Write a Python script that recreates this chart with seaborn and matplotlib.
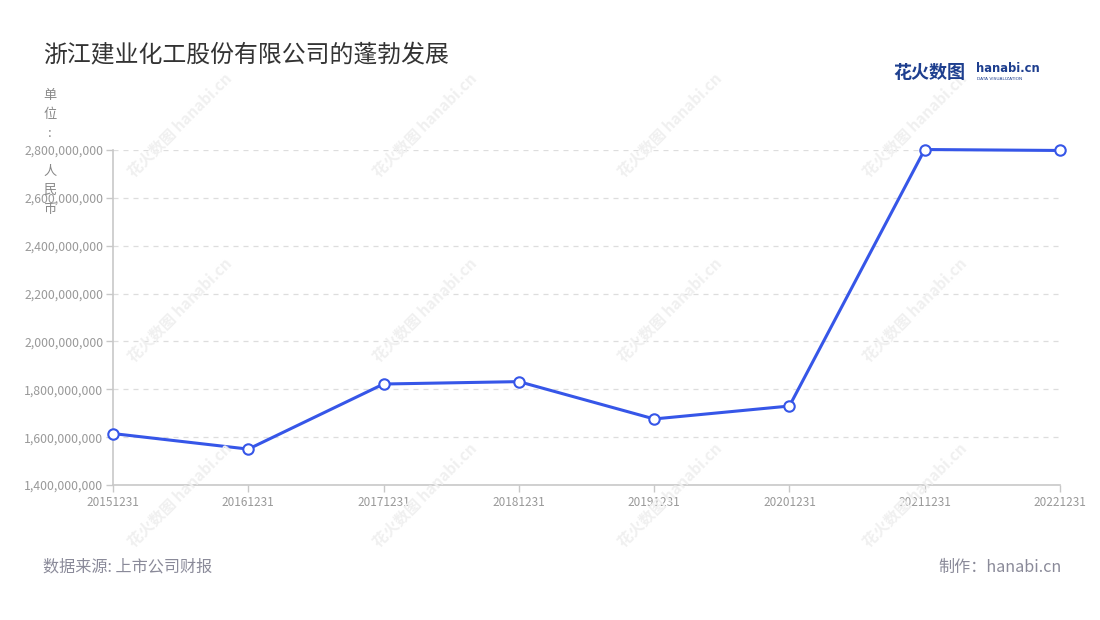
import matplotlib
matplotlib.use("Agg")
import matplotlib.pyplot as plt
import seaborn as sns
import pandas as pd

# values
dates = ["20151231", "20161231", "20171231", "20181231",
         "20191231", "20201231", "20211231", "20221231"]
values = [1615e6, 1550e6, 1822e6, 1832e6, 1676e6, 1730e6, 2802e6, 2798e6]
y_ticks = [1.4e9, 1.6e9, 1.8e9, 2.0e9, 2.2e9, 2.4e9, 2.6e9, 2.8e9]

title = "浙江建业化工股份有限公司的蓬勃发展"
unit_label = "单位: 人民币"
source = "数据来源: 上市公司财报"
credit = "制作：hanabi.cn"

sns.set_theme(style="white")
plt.rcParams['font.family'] = ['Noto Sans CJK SC', 'DejaVu Sans']

df = pd.DataFrame({"date": dates, "value": values})

fig = plt.figure(figsize=(11, 6.2), dpi=100)
ax = fig.add_axes([113 / 1100, 135 / 620, 947 / 1100, 335 / 620])

# faint watermarks behind the chart
for wx in [180, 425, 670, 915]:
    for wy in [125, 310, 495]:
        fig.text(wx / 1100, 1 - wy / 620, "花火数图 hanabi.cn", rotation=45,
                 ha="center", va="center", fontsize=11, fontweight="bold",
                 color="#f0f0f0", zorder=0)

ax.patch.set_alpha(0)
sns.lineplot(data=df, x="date", y="value", ax=ax, color="#3656e8",
             linewidth=2.2, marker="o", markersize=7.5,
             markerfacecolor="white", markeredgecolor="#3656e8",
             markeredgewidth=1.5, clip_on=False, zorder=5)

ax.set_xlim(0, len(dates) - 1)
ax.set_ylim(1.4e9, 2.8e9)
ax.set_yticks(y_ticks)
ax.set_yticklabels([f"{v:,.0f}" for v in y_ticks])
ax.set_xlabel("")
ax.set_ylabel("")

ax.yaxis.grid(True, linestyle=(0, (4, 4)), color="#dddddd", linewidth=0.9)
ax.xaxis.grid(False)
for side in ["top", "right"]:
    ax.spines[side].set_visible(False)
for side in ["left", "bottom"]:
    ax.spines[side].set_color("#c8c8c8")
    ax.spines[side].set_linewidth(1.2)

ax.tick_params(axis="both", which="both", colors="#c8c8c8", length=5,
               width=1, labelcolor="#999999", labelsize=8.8, pad=2)
ax.tick_params(axis="x", pad=3, labelsize=8.5)
ax.tick_params(left=True, bottom=True)

fig.text(43 / 1100, 1 - 55 / 620, title, fontsize=17.2, color="#333333",
         ha="left", va="center")

fig.text(50 / 1100, 1 - 89 / 620, "\n".join(unit_label), fontsize=9.5,
         color="#888888", ha="center", va="top", linespacing=1.6)

fig.text(43 / 1100, 1 - 567 / 620, source, fontsize=11.6, color="#8a8a99",
         ha="left", va="center")
fig.text(1062 / 1100, 1 - 567 / 620, credit, fontsize=11.6, color="#8a8a99",
         ha="right", va="center")

# logo
fig.text(893 / 1100, 1 - 72 / 620, "花火数图", fontsize=13, fontweight="bold",
         color="#1e3f8f", ha="left", va="center")
fig.text(976 / 1100, 1 - 69 / 620, "hanabi.cn", fontsize=8.3, fontweight="bold",
         color="#1e3f8f", ha="left", va="center", family="DejaVu Sans")
fig.text(977 / 1100, 1 - 79 / 620, "DATA VISUALIZATION", fontsize=3.2,
         color="#1e3f8f", ha="left", va="center", family="DejaVu Sans")

fig.savefig("out.png", dpi=100)
